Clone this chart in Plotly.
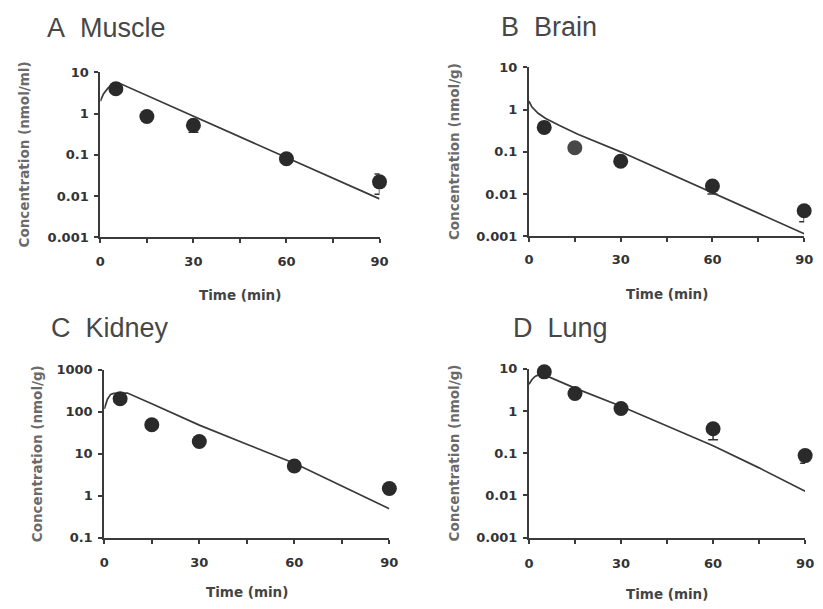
import plotly.graph_objects as go

W, H = 823, 609

# ---------------- data ----------------
obs_time = [5, 15, 30, 60, 90]

muscle_obs = [4.0, 0.85, 0.52, 0.08, 0.022]
muscle_err_lo = [0, 0, 0.17, 0, 0.011]
muscle_err_hi = [0, 0, 0.05, 0, 0.012]
muscle_fit_t = [0, 1, 2.5, 4, 6, 15, 30, 45, 60, 75, 90]
muscle_fit = [2.0, 3.0, 4.2, 5.0, 5.5, 2.76, 0.87, 0.275, 0.087, 0.0272, 0.0085]

brain_obs = [0.38, 0.125, 0.06, 0.0155, 0.004]
brain_err_lo = [0, 0, 0, 0.0055, 0.0018]
brain_err_hi = [0, 0, 0, 0.003, 0.001]
brain_fit_t = [0, 1, 3, 5.5, 10, 16, 30, 45, 60, 75, 90]
brain_fit = [1.6, 1.15, 0.82, 0.62, 0.42, 0.26, 0.1, 0.033, 0.011, 0.0035, 0.00115]

kidney_obs = [204, 49, 19.5, 5.1, 1.48]
kidney_err_lo = [0, 0, 0, 0, 0]
kidney_err_hi = [0, 0, 0, 0, 0]
kidney_fit_t = [0, 1, 2, 3, 5, 7.3, 15, 30, 45, 60, 75, 90]
kidney_fit = [117, 200, 260, 275, 280, 280, 155, 48, 16.8, 5.9, 1.7, 0.49]

lung_obs = [8.5, 2.6, 1.15, 0.38, 0.088]
lung_err_lo = [0, 0, 0, 0.17, 0.03]
lung_err_hi = [0, 0, 0, 0.05, 0.02]
lung_fit_t = [0, 1, 2, 3.5, 5, 15, 30, 45, 60, 75, 90]
lung_fit = [4.3, 5.6, 6.6, 7.4, 7.2, 3.5, 1.3, 0.44, 0.15, 0.045, 0.0125]

panel_titles = ["A\u00a0\u00a0Muscle", "B\u00a0\u00a0Brain", "C\u00a0\u00a0Kidney", "D\u00a0\u00a0Lung"]
y_titles = ["Concentration (nmol/ml)", "Concentration (nmol/g)",
            "Concentration (nmol/g)", "Concentration (nmol/g)"]
x_title = "Time (min)"

x_tickvals = [0, 15, 30, 45, 60, 75, 90]
x_ticktext = ["0", "", "30", "", "60", "", "90"]
y_ticks_small = [0.001, 0.01, 0.1, 1, 10]
y_ticktext_small = ["0.001", "0.01", "0.1", "1", "10"]
y_ticks_kidney = [0.1, 1, 10, 100, 1000]
y_ticktext_kidney = ["0.1", "1", "10", "100", "1000"]

# ---------------- layout (pixel boxes) ----------------
boxes = [(97, 381, 67, 236), (533, 813, 62, 235), (101, 391, 372, 544), (533, 814, 371, 544)]
title_pos = [(41, 22), (503, 20), (45, 329), (515, 329)]
ytitle_x = [19, 457, 32, 457]
xtitle_y = [295, 294, 600, 602]
xlab_standoff = [7, 6, 8, 9]
marker_colors = [
    ["#2a2a2a"] * 5,
    ["#2a2a2a", "#484848", "#2a2a2a", "#2a2a2a", "#2a2a2a"],
    ["#2a2a2a"] * 5,
    ["#2a2a2a"] * 5,
]

panels = [
    (muscle_obs, muscle_err_lo, muscle_err_hi, muscle_fit_t, muscle_fit, y_ticks_small, y_ticktext_small, [-3, 1]),
    (brain_obs, brain_err_lo, brain_err_hi, brain_fit_t, brain_fit, y_ticks_small, y_ticktext_small, [-3, 1]),
    (kidney_obs, kidney_err_lo, kidney_err_hi, kidney_fit_t, kidney_fit, y_ticks_kidney, y_ticktext_kidney, [-1, 3]),
    (lung_obs, lung_err_lo, lung_err_hi, lung_fit_t, lung_fit, y_ticks_small, y_ticktext_small, [-3, 1]),
]

AX = "#3a3a3a"
tickfont = dict(family="DejaVu Sans", size=13, color="#333333", weight="bold")

fig = go.Figure()
annotations = []
for i, (obs, elo, ehi, ft, fv, yt, ytt, yr) in enumerate(panels):
    n = "" if i == 0 else str(i + 1)
    xa, ya = "x" + n, "y" + n
    x0, x1, yt0, yb = boxes[i]
    fig.add_trace(go.Scatter(
        x=ft, y=fv, mode="lines", xaxis=xa, yaxis=ya, cliponaxis=False,
        line=dict(color="#3a3a3a", width=1.7), showlegend=False, hoverinfo="skip"))
    fig.add_trace(go.Scatter(
        x=obs_time, y=obs, mode="markers", xaxis=xa, yaxis=ya, cliponaxis=False,
        marker=dict(size=15, color=marker_colors[i], line=dict(width=0)),
        error_y=dict(type="data", symmetric=False, array=ehi, arrayminus=elo,
                     color="#333333", thickness=1.5, width=5),
        showlegend=False))
    fig.layout["xaxis" + n] = dict(
        domain=[x0 / W, x1 / W], anchor=ya, range=[0, 90],
        tickmode="array", tickvals=x_tickvals, ticktext=x_ticktext,
        ticks="outside", ticklen=4, tickwidth=2, tickcolor=AX,
        showline=True, linewidth=2, linecolor=AX, showgrid=False, zeroline=False,
        tickfont=tickfont, ticklabelstandoff=xlab_standoff[i])
    fig.layout["yaxis" + n] = dict(
        domain=[1 - yb / H, 1 - yt0 / H], anchor=xa, type="log", range=yr,
        tickmode="array", tickvals=yt, ticktext=ytt,
        ticks="outside", ticklen=4, tickwidth=2, tickcolor=AX,
        showline=True, linewidth=2, linecolor=AX, showgrid=False, zeroline=False,
        tickfont=tickfont, ticklabelstandoff=3)
    tx, ty = title_pos[i]
    annotations.append(dict(text=panel_titles[i], xref="paper", yref="paper",
                            x=tx / W, y=1 - ty / H, xanchor="left", yanchor="middle",
                            showarrow=False,
                            font=dict(family="Liberation Sans", size=27, color="#474747")))
    annotations.append(dict(text=y_titles[i], xref="paper", yref="paper",
                            x=ytitle_x[i] / W, y=1 - (yt0 + yb) / 2 / H,
                            xanchor="center", yanchor="middle", textangle=-90,
                            showarrow=False,
                            font=dict(family="DejaVu Sans", size=13.5, color="#6a6a6a", weight="bold")))
    annotations.append(dict(text=x_title, xref="paper", yref="paper",
                            x=(x0 + x1) / 2 / W, y=1 - xtitle_y[i] / H,
                            xanchor="center", yanchor="middle", showarrow=False,
                            font=dict(family="DejaVu Sans", size=13.5, color="#444444", weight="bold")))

fig.update_layout(width=W, height=H, margin=dict(l=0, r=0, t=0, b=0),
                  paper_bgcolor="white", plot_bgcolor="white",
                  annotations=annotations, showlegend=False)

fig.write_html("out.html")
